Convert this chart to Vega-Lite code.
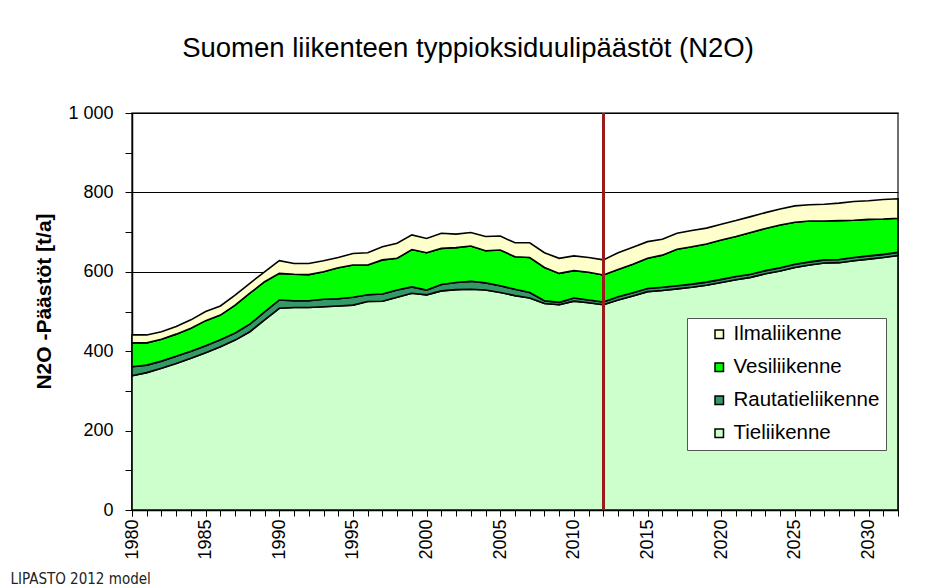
{
  "$schema": "https://vega.github.io/schema/vega-lite/v6.json",
  "width": 766,
  "height": 397,
  "autosize": "none",
  "padding": {"left": 132, "top": 113, "right": 40, "bottom": 78},
  "background": "white",
  "config": {
    "font": "Liberation Sans",
    "view": {"stroke": "#404040", "strokeWidth": 1.5},
    "axis": {"labelOverlap": false}
  },
  "title": {
    "text": "Suomen liikenteen typpioksiduulipäästöt (N2O)",
    "fontSize": 27.5,
    "fontWeight": "normal",
    "color": "black",
    "font": "Liberation Sans",
    "anchor": "middle",
    "dx": -47,
    "offset": 42
  },
  "datasets": {
    "kulkumuodot": [
      {"mode":"Tieliikenne","rank":1},
      {"mode":"Rautatieliikenne","rank":2},
      {"mode":"Vesiliikenne","rank":3},
      {"mode":"Ilmaliikenne","rank":4}
    ],
    "paastot": [
      {"year":1980,"mode":"Tieliikenne","value":338},{"year":1980,"mode":"Rautatieliikenne","value":23},{"year":1980,"mode":"Vesiliikenne","value":60},{"year":1980,"mode":"Ilmaliikenne","value":20},
      {"year":1981,"mode":"Tieliikenne","value":346},{"year":1981,"mode":"Rautatieliikenne","value":19},{"year":1981,"mode":"Vesiliikenne","value":56},{"year":1981,"mode":"Ilmaliikenne","value":20},
      {"year":1982,"mode":"Tieliikenne","value":357},{"year":1982,"mode":"Rautatieliikenne","value":18},{"year":1982,"mode":"Vesiliikenne","value":55},{"year":1982,"mode":"Ilmaliikenne","value":19},
      {"year":1983,"mode":"Tieliikenne","value":369},{"year":1983,"mode":"Rautatieliikenne","value":18},{"year":1983,"mode":"Vesiliikenne","value":56},{"year":1983,"mode":"Ilmaliikenne","value":19},
      {"year":1984,"mode":"Tieliikenne","value":382},{"year":1984,"mode":"Rautatieliikenne","value":18},{"year":1984,"mode":"Vesiliikenne","value":58},{"year":1984,"mode":"Ilmaliikenne","value":21},
      {"year":1985,"mode":"Tieliikenne","value":396},{"year":1985,"mode":"Rautatieliikenne","value":18},{"year":1985,"mode":"Vesiliikenne","value":63},{"year":1985,"mode":"Ilmaliikenne","value":23},
      {"year":1986,"mode":"Tieliikenne","value":411},{"year":1986,"mode":"Rautatieliikenne","value":18},{"year":1986,"mode":"Vesiliikenne","value":62},{"year":1986,"mode":"Ilmaliikenne","value":23},
      {"year":1987,"mode":"Tieliikenne","value":428},{"year":1987,"mode":"Rautatieliikenne","value":18},{"year":1987,"mode":"Vesiliikenne","value":70},{"year":1987,"mode":"Ilmaliikenne","value":25},
      {"year":1988,"mode":"Tieliikenne","value":449},{"year":1988,"mode":"Rautatieliikenne","value":19},{"year":1988,"mode":"Vesiliikenne","value":78},{"year":1988,"mode":"Ilmaliikenne","value":25},
      {"year":1989,"mode":"Tieliikenne","value":479},{"year":1989,"mode":"Rautatieliikenne","value":20},{"year":1989,"mode":"Vesiliikenne","value":76},{"year":1989,"mode":"Ilmaliikenne","value":25},
      {"year":1990,"mode":"Tieliikenne","value":508},{"year":1990,"mode":"Rautatieliikenne","value":21},{"year":1990,"mode":"Vesiliikenne","value":67},{"year":1990,"mode":"Ilmaliikenne","value":32},
      {"year":1991,"mode":"Tieliikenne","value":510},{"year":1991,"mode":"Rautatieliikenne","value":17},{"year":1991,"mode":"Vesiliikenne","value":67},{"year":1991,"mode":"Ilmaliikenne","value":27},
      {"year":1992,"mode":"Tieliikenne","value":510},{"year":1992,"mode":"Rautatieliikenne","value":17},{"year":1992,"mode":"Vesiliikenne","value":66},{"year":1992,"mode":"Ilmaliikenne","value":28},
      {"year":1993,"mode":"Tieliikenne","value":512},{"year":1993,"mode":"Rautatieliikenne","value":19},{"year":1993,"mode":"Vesiliikenne","value":69},{"year":1993,"mode":"Ilmaliikenne","value":28},
      {"year":1994,"mode":"Tieliikenne","value":514},{"year":1994,"mode":"Rautatieliikenne","value":18},{"year":1994,"mode":"Vesiliikenne","value":78},{"year":1994,"mode":"Ilmaliikenne","value":26},
      {"year":1995,"mode":"Tieliikenne","value":516},{"year":1995,"mode":"Rautatieliikenne","value":20},{"year":1995,"mode":"Vesiliikenne","value":81},{"year":1995,"mode":"Ilmaliikenne","value":29},
      {"year":1996,"mode":"Tieliikenne","value":525},{"year":1996,"mode":"Rautatieliikenne","value":17},{"year":1996,"mode":"Vesiliikenne","value":75},{"year":1996,"mode":"Ilmaliikenne","value":31},
      {"year":1997,"mode":"Tieliikenne","value":526},{"year":1997,"mode":"Rautatieliikenne","value":18},{"year":1997,"mode":"Vesiliikenne","value":86},{"year":1997,"mode":"Ilmaliikenne","value":33},
      {"year":1998,"mode":"Tieliikenne","value":536},{"year":1998,"mode":"Rautatieliikenne","value":18},{"year":1998,"mode":"Vesiliikenne","value":80},{"year":1998,"mode":"Ilmaliikenne","value":38},
      {"year":1999,"mode":"Tieliikenne","value":546},{"year":1999,"mode":"Rautatieliikenne","value":16},{"year":1999,"mode":"Vesiliikenne","value":94},{"year":1999,"mode":"Ilmaliikenne","value":37},
      {"year":2000,"mode":"Tieliikenne","value":542},{"year":2000,"mode":"Rautatieliikenne","value":12},{"year":2000,"mode":"Vesiliikenne","value":94},{"year":2000,"mode":"Ilmaliikenne","value":36},
      {"year":2001,"mode":"Tieliikenne","value":552},{"year":2001,"mode":"Rautatieliikenne","value":16},{"year":2001,"mode":"Vesiliikenne","value":91},{"year":2001,"mode":"Ilmaliikenne","value":38},
      {"year":2002,"mode":"Tieliikenne","value":555},{"year":2002,"mode":"Rautatieliikenne","value":18},{"year":2002,"mode":"Vesiliikenne","value":88},{"year":2002,"mode":"Ilmaliikenne","value":34},
      {"year":2003,"mode":"Tieliikenne","value":556},{"year":2003,"mode":"Rautatieliikenne","value":20},{"year":2003,"mode":"Vesiliikenne","value":89},{"year":2003,"mode":"Ilmaliikenne","value":34},
      {"year":2004,"mode":"Tieliikenne","value":554},{"year":2004,"mode":"Rautatieliikenne","value":18},{"year":2004,"mode":"Vesiliikenne","value":81},{"year":2004,"mode":"Ilmaliikenne","value":36},
      {"year":2005,"mode":"Tieliikenne","value":548},{"year":2005,"mode":"Rautatieliikenne","value":17},{"year":2005,"mode":"Vesiliikenne","value":90},{"year":2005,"mode":"Ilmaliikenne","value":35},
      {"year":2006,"mode":"Tieliikenne","value":540},{"year":2006,"mode":"Rautatieliikenne","value":16},{"year":2006,"mode":"Vesiliikenne","value":82},{"year":2006,"mode":"Ilmaliikenne","value":35},
      {"year":2007,"mode":"Tieliikenne","value":534},{"year":2007,"mode":"Rautatieliikenne","value":14},{"year":2007,"mode":"Vesiliikenne","value":88},{"year":2007,"mode":"Ilmaliikenne","value":37},
      {"year":2008,"mode":"Tieliikenne","value":520},{"year":2008,"mode":"Rautatieliikenne","value":7},{"year":2008,"mode":"Vesiliikenne","value":84},{"year":2008,"mode":"Ilmaliikenne","value":37},
      {"year":2009,"mode":"Tieliikenne","value":517},{"year":2009,"mode":"Rautatieliikenne","value":6},{"year":2009,"mode":"Vesiliikenne","value":73},{"year":2009,"mode":"Ilmaliikenne","value":38},
      {"year":2010,"mode":"Tieliikenne","value":526},{"year":2010,"mode":"Rautatieliikenne","value":8},{"year":2010,"mode":"Vesiliikenne","value":69},{"year":2010,"mode":"Ilmaliikenne","value":37},
      {"year":2011,"mode":"Tieliikenne","value":522},{"year":2011,"mode":"Rautatieliikenne","value":7},{"year":2011,"mode":"Vesiliikenne","value":70},{"year":2011,"mode":"Ilmaliikenne","value":37},
      {"year":2012,"mode":"Tieliikenne","value":517},{"year":2012,"mode":"Rautatieliikenne","value":7},{"year":2012,"mode":"Vesiliikenne","value":68},{"year":2012,"mode":"Ilmaliikenne","value":38},
      {"year":2013,"mode":"Tieliikenne","value":529},{"year":2013,"mode":"Rautatieliikenne","value":8},{"year":2013,"mode":"Vesiliikenne","value":69},{"year":2013,"mode":"Ilmaliikenne","value":42},
      {"year":2014,"mode":"Tieliikenne","value":539},{"year":2014,"mode":"Rautatieliikenne","value":8},{"year":2014,"mode":"Vesiliikenne","value":72},{"year":2014,"mode":"Ilmaliikenne","value":43},
      {"year":2015,"mode":"Tieliikenne","value":550},{"year":2015,"mode":"Rautatieliikenne","value":8},{"year":2015,"mode":"Vesiliikenne","value":76},{"year":2015,"mode":"Ilmaliikenne","value":42},
      {"year":2016,"mode":"Tieliikenne","value":553},{"year":2016,"mode":"Rautatieliikenne","value":8},{"year":2016,"mode":"Vesiliikenne","value":81},{"year":2016,"mode":"Ilmaliikenne","value":40},
      {"year":2017,"mode":"Tieliikenne","value":557},{"year":2017,"mode":"Rautatieliikenne","value":8},{"year":2017,"mode":"Vesiliikenne","value":92},{"year":2017,"mode":"Ilmaliikenne","value":40},
      {"year":2018,"mode":"Tieliikenne","value":561},{"year":2018,"mode":"Rautatieliikenne","value":8},{"year":2018,"mode":"Vesiliikenne","value":94},{"year":2018,"mode":"Ilmaliikenne","value":41},
      {"year":2019,"mode":"Tieliikenne","value":566},{"year":2019,"mode":"Rautatieliikenne","value":8},{"year":2019,"mode":"Vesiliikenne","value":96},{"year":2019,"mode":"Ilmaliikenne","value":40},
      {"year":2020,"mode":"Tieliikenne","value":573},{"year":2020,"mode":"Rautatieliikenne","value":8},{"year":2020,"mode":"Vesiliikenne","value":99},{"year":2020,"mode":"Ilmaliikenne","value":40},
      {"year":2021,"mode":"Tieliikenne","value":580},{"year":2021,"mode":"Rautatieliikenne","value":8},{"year":2021,"mode":"Vesiliikenne","value":101},{"year":2021,"mode":"Ilmaliikenne","value":40},
      {"year":2022,"mode":"Tieliikenne","value":586},{"year":2022,"mode":"Rautatieliikenne","value":8},{"year":2022,"mode":"Vesiliikenne","value":105},{"year":2022,"mode":"Ilmaliikenne","value":40},
      {"year":2023,"mode":"Tieliikenne","value":595},{"year":2023,"mode":"Rautatieliikenne","value":8},{"year":2023,"mode":"Vesiliikenne","value":106},{"year":2023,"mode":"Ilmaliikenne","value":40},
      {"year":2024,"mode":"Tieliikenne","value":602},{"year":2024,"mode":"Rautatieliikenne","value":8},{"year":2024,"mode":"Vesiliikenne","value":108},{"year":2024,"mode":"Ilmaliikenne","value":40},
      {"year":2025,"mode":"Tieliikenne","value":611},{"year":2025,"mode":"Rautatieliikenne","value":8},{"year":2025,"mode":"Vesiliikenne","value":106},{"year":2025,"mode":"Ilmaliikenne","value":41},
      {"year":2026,"mode":"Tieliikenne","value":617},{"year":2026,"mode":"Rautatieliikenne","value":8},{"year":2026,"mode":"Vesiliikenne","value":103},{"year":2026,"mode":"Ilmaliikenne","value":41},
      {"year":2027,"mode":"Tieliikenne","value":622},{"year":2027,"mode":"Rautatieliikenne","value":8},{"year":2027,"mode":"Vesiliikenne","value":98},{"year":2027,"mode":"Ilmaliikenne","value":42},
      {"year":2028,"mode":"Tieliikenne","value":623},{"year":2028,"mode":"Rautatieliikenne","value":8},{"year":2028,"mode":"Vesiliikenne","value":98},{"year":2028,"mode":"Ilmaliikenne","value":44},
      {"year":2029,"mode":"Tieliikenne","value":628},{"year":2029,"mode":"Rautatieliikenne","value":8},{"year":2029,"mode":"Vesiliikenne","value":94},{"year":2029,"mode":"Ilmaliikenne","value":47},
      {"year":2030,"mode":"Tieliikenne","value":632},{"year":2030,"mode":"Rautatieliikenne","value":8},{"year":2030,"mode":"Vesiliikenne","value":92},{"year":2030,"mode":"Ilmaliikenne","value":47},
      {"year":2031,"mode":"Tieliikenne","value":636},{"year":2031,"mode":"Rautatieliikenne","value":8},{"year":2031,"mode":"Vesiliikenne","value":89},{"year":2031,"mode":"Ilmaliikenne","value":49},
      {"year":2032,"mode":"Tieliikenne","value":641},{"year":2032,"mode":"Rautatieliikenne","value":8},{"year":2032,"mode":"Vesiliikenne","value":86},{"year":2032,"mode":"Ilmaliikenne","value":49}
    ]
  },
  "data": {"name": "paastot"},
  "resolve": {"axis": {"x": "independent"}},
  "layer": [
    {
      "transform": [
        {"lookup": "mode", "from": {"data": {"name": "kulkumuodot"}, "key": "mode", "fields": ["rank"]}}
      ],
      "mark": {"type": "area", "stroke": "black", "strokeWidth": 1.6, "opacity": 1},
      "encoding": {
        "x": {
          "field": "year",
          "type": "quantitative",
          "scale": {"domain": [1980, 2032], "nice": false, "zero": false},
          "axis": {
            "orient": "bottom",
            "values": [1980,1985,1990,1995,2000,2005,2010,2015,2020,2025,2030],
            "format": "d",
            "labelAngle": -90,
            "labelAlign": "right",
            "labelBaseline": "middle",
            "labelFontSize": 18,
            "labelColor": "black",
            "labelPadding": 3,
            "labelOverlap": false,
            "labelFlush": false,
            "labelBound": false,
            "tickSize": 6,
            "tickColor": "black",
            "domainColor": "black",
            "domainWidth": 1.5,
            "grid": false,
            "title": "LIPASTO 2012 model",
            "titleFont": "Liberation Sans Narrow, DejaVu Sans Condensed, Liberation Sans",
            "titleFontSize": 15,
            "titleFontWeight": "normal",
            "titleColor": "#222222",
            "titleX": -122,
            "titleY": 68,
            "titleAlign": "left",
            "titleBaseline": "middle",
            "titleAngle": 0
          }
        },
        "y": {
          "field": "value",
          "type": "quantitative",
          "stack": "zero",
          "scale": {"domain": [0, 1000], "nice": false},
          "axis": {
            "values": [0,100,200,300,400,500,600,700,800,900,1000],
            "labelExpr": "datum.value == 1000 ? '1 000' : (datum.value % 200 == 0 ? datum.label : '')",
            "labelFontSize": 18,
            "labelColor": "black",
            "labelPadding": 12,
            "labelOverlap": false,
            "labelFlush": false,
            "tickSize": 7,
            "tickColor": "black",
            "domainColor": "black",
            "domainWidth": 1.5,
            "grid": true,
            "gridColor": "black",
            "gridWidth": 1,
            "gridOpacity": {"condition": {"test": "datum.value % 200 == 0", "value": 1}, "value": 0},
            "title": "N2O -Päästöt [t/a]",
            "titleFontSize": 21,
            "titleFontWeight": "bold",
            "titleColor": "black",
            "titleX": -88,
            "titleY": 188,
            "titleAngle": -90,
            "titleAlign": "center",
            "titleBaseline": "middle"
          }
        },
        "order": {"field": "rank", "type": "quantitative", "sort": "ascending"},
        "color": {
          "field": "mode",
          "type": "nominal",
          "scale": {
            "domain": ["Ilmaliikenne", "Vesiliikenne", "Rautatieliikenne", "Tieliikenne"],
            "range": ["#FFFFCC", "#00FF00", "#339966", "#CCFFCC"]
          },
          "legend": {
            "orient": "none",
            "legendX": 555,
            "legendY": 205,
            "title": null,
            "fillColor": "white",
            "strokeColor": "#555555",
            "padding": 6,
            "symbolType": "square",
            "symbolSize": 72,
            "symbolStrokeColor": "black",
            "symbolStrokeWidth": 1.5,
            "symbolOpacity": 1,
            "symbolOffset": 16,
            "labelFontSize": 20.5,
            "labelColor": "black",
            "labelOffset": 4,
            "rowPadding": 12
          }
        }
      }
    },
    {
      "mark": {"type": "rule", "color": "#9C1A1A", "strokeWidth": 2},
      "encoding": {
        "x": {
          "datum": 2012,
          "type": "quantitative",
          "axis": {
            "orient": "bottom",
            "values": [1980,1981,1982,1983,1984,1985,1986,1987,1988,1989,1990,1991,1992,1993,1994,1995,1996,1997,1998,1999,2000,2001,2002,2003,2004,2005,2006,2007,2008,2009,2010,2011,2012,2013,2014,2015,2016,2017,2018,2019,2020,2021,2022,2023,2024,2025,2026,2027,2028,2029,2030,2031,2032],
            "labels": false,
            "domain": false,
            "grid": false,
            "tickSize": 6,
            "tickColor": "black",
            "title": null
          }
        }
      }
    }
  ]
}
